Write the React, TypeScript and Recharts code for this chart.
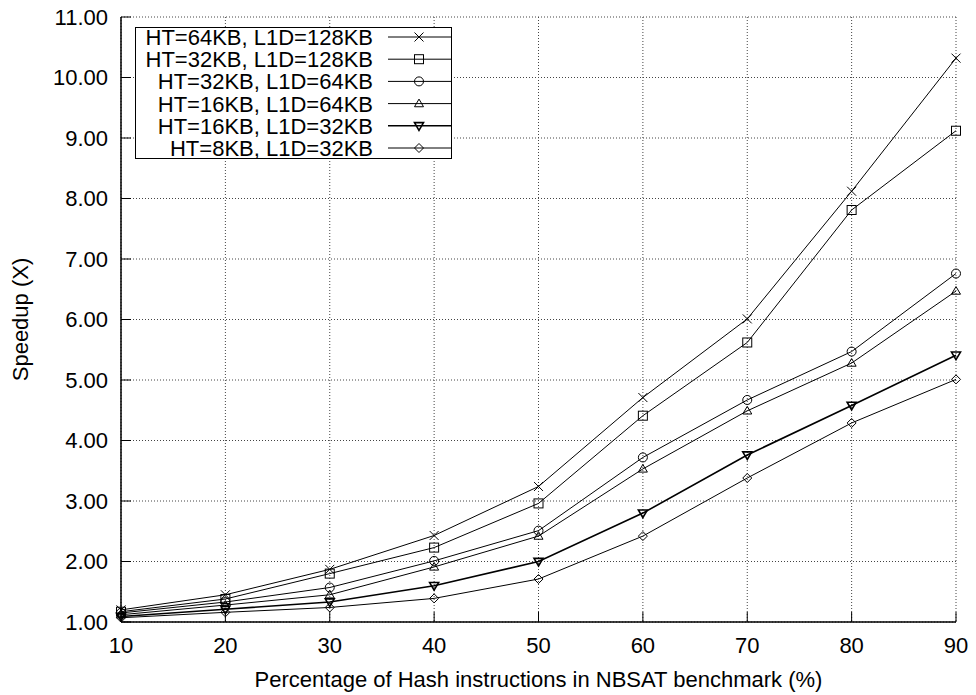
import React from 'react';
import { LineChart, Line, XAxis, YAxis, CartesianGrid, Legend } from 'recharts';

const percentages = [10, 20, 30, 40, 50, 60, 70, 80, 90];
const yTicks = [1, 2, 3, 4, 5, 6, 7, 8, 9, 10, 11];

const ht64l128 = [1.2, 1.45, 1.87, 2.43, 3.24, 4.71, 6.01, 8.12, 10.32];
const ht32l128 = [1.17, 1.38, 1.8, 2.23, 2.96, 4.41, 5.62, 7.81, 9.12];
const ht32l64 = [1.15, 1.33, 1.57, 2.01, 2.51, 3.72, 4.67, 5.47, 6.76];
const ht16l64 = [1.12, 1.28, 1.45, 1.91, 2.42, 3.53, 4.49, 5.28, 6.47];
const ht16l32 = [1.09, 1.21, 1.33, 1.6, 2.0, 2.8, 3.76, 4.58, 5.41];
const ht8l32 = [1.07, 1.16, 1.24, 1.39, 1.71, 2.42, 3.38, 4.29, 5.01];

const seriesNames = [
  'HT=64KB, L1D=128KB',
  'HT=32KB, L1D=128KB',
  'HT=32KB, L1D=64KB',
  'HT=16KB, L1D=64KB',
  'HT=16KB, L1D=32KB',
  'HT=8KB, L1D=32KB',
];
const seriesValues = [ht64l128, ht32l128, ht32l64, ht16l64, ht16l32, ht8l32];
const seriesShapes = ['cross', 'square', 'circle', 'triangle', 'triangleDown', 'diamond'];
const seriesWidths = [1, 1, 1, 1, 1.6, 1];

const data = percentages.map((p, i) => {
  const row: any = { x: p };
  seriesValues.forEach((vals, s) => {
    row['s' + s] = vals[i];
  });
  return row;
});

const FONT = '"Liberation Sans", Arial, Helvetica, sans-serif';
const FS = 22;

function Marker({ cx, cy, shape }: { cx: number; cy: number; shape: string }) {
  const r = 4.5;
  const common = { fill: 'none', stroke: '#000', strokeWidth: 1 };
  switch (shape) {
    case 'cross':
      return (
        <g>
          <line x1={cx - r} y1={cy - r} x2={cx + r} y2={cy + r} stroke="#000" strokeWidth={1} />
          <line x1={cx - r} y1={cy + r} x2={cx + r} y2={cy - r} stroke="#000" strokeWidth={1} />
        </g>
      );
    case 'square':
      return <rect x={cx - r} y={cy - r} width={2 * r} height={2 * r} {...common} />;
    case 'circle':
      return <circle cx={cx} cy={cy} r={r} {...common} />;
    case 'triangle':
      return (
        <polygon
          points={`${cx},${cy - r} ${cx + r},${cy + r * 0.7} ${cx - r},${cy + r * 0.7}`}
          {...common}
        />
      );
    case 'triangleDown':
      return (
        <polygon
          points={`${cx},${cy + r} ${cx + r},${cy - r * 0.7} ${cx - r},${cy - r * 0.7}`}
          {...common}
          strokeWidth={1.6}
        />
      );
    case 'diamond':
    default:
      return (
        <polygon
          points={`${cx},${cy - r} ${cx + r},${cy} ${cx},${cy + r} ${cx - r},${cy}`}
          {...common}
        />
      );
  }
}

function LegendBox() {
  const rowH = 22.2;
  return (
    <svg width={315} height={130} style={{ display: 'block', overflow: 'visible' }}>
      {seriesNames.map((name, i) => {
        const y = 9 + i * rowH;
        return (
          <g key={name}>
            <text
              x={237}
              y={y}
              dy="0.36em"
              textAnchor="end"
              fontFamily={FONT}
              fontSize={FS}
              fill="#000"
            >
              {name}
            </text>
            <line x1={252} y1={y} x2={315} y2={y} stroke="#000" strokeWidth={seriesWidths[i]} />
            <Marker cx={283} cy={y} shape={seriesShapes[i]} />
          </g>
        );
      })}
    </svg>
  );
}

const axisStroke = { stroke: '#000', strokeWidth: 1.5 };
const tickLineStyle = { stroke: '#000', strokeWidth: 1 };

export default function App() {
  return (
    <div style={{ position: 'absolute', left: 0, top: 0, background: '#fff' }}>
      <LineChart
        width={976}
        height={695}
        data={data}
        margin={{ top: 17, right: 20, left: 0, bottom: 0 }}
        style={{ fontFamily: FONT }}
      >
        <CartesianGrid stroke="#444" strokeDasharray="1 2" strokeWidth={1} />
        <XAxis
          dataKey="x"
          type="number"
          domain={[10, 90]}
          ticks={percentages}
          height={73}
          tickLine={tickLineStyle}
          tickSize={-10}
          tickMargin={25}
          axisLine={axisStroke}
          tick={{ fill: '#000', fontSize: FS, fontFamily: FONT }}
          interval={0}
          label={{
            content: (props: any) => {
              const vb = props.viewBox || {};
              return (
                <text
                  x={vb.x + vb.width / 2}
                  y={687}
                  textAnchor="middle"
                  fontFamily={FONT}
                  fontSize={FS}
                  fill="#000"
                >
                  Percentage of Hash instructions in NBSAT benchmark (%)
                </text>
              );
            },
          }}
        />
        <XAxis
          xAxisId="top"
          orientation="top"
          type="number"
          domain={[10, 90]}
          ticks={percentages}
          interval={0}
          height={0}
          tick={false}
          tickLine={tickLineStyle}
          tickSize={-10}
          axisLine={axisStroke}
        />
        <YAxis
          type="number"
          domain={[1, 11]}
          ticks={yTicks}
          width={121}
          tickLine={tickLineStyle}
          tickSize={-10}
          tickMargin={23}
          interval={0}
          allowDataOverflow
          axisLine={axisStroke}
          tick={{ fill: '#000', fontSize: FS, fontFamily: FONT }}
          tickFormatter={(v: number) => v.toFixed(2)}
          label={{
            content: (props: any) => {
              const vb = props.viewBox || {};
              const x = 28;
              const y = vb.y + vb.height / 2;
              return (
                <text
                  x={x}
                  y={y}
                  textAnchor="middle"
                  transform={`rotate(-90, ${x}, ${y})`}
                  fontFamily={FONT}
                  fontSize={FS}
                  fill="#000"
                >
                  Speedup (X)
                </text>
              );
            },
          }}
        />
        <YAxis
          yAxisId="right"
          orientation="right"
          type="number"
          domain={[1, 11]}
          ticks={yTicks}
          interval={0}
          width={0}
          tick={false}
          tickLine={tickLineStyle}
          tickSize={-10}
          axisLine={axisStroke}
        />
        {seriesNames.map((name, s) => (
          <Line
            key={name}
            type="linear"
            dataKey={'s' + s}
            name={name}
            stroke="#000"
            strokeWidth={seriesWidths[s]}
            isAnimationActive={false}
            dot={(p: any) => (
              <Marker key={`${s}-${p.index}`} cx={p.cx} cy={p.cy} shape={seriesShapes[s]} />
            )}
            activeDot={false}
          />
        ))}
        <Legend
          layout="vertical"
          verticalAlign="middle"
          align="center"
          wrapperStyle={{
            position: 'absolute',
            left: 135,
            top: 27,
            width: 317,
            height: 132,
            border: '1px solid #000',
            background: '#fff',
            boxSizing: 'border-box',
          }}
          content={() => <LegendBox />}
        />
      </LineChart>
    </div>
  );
}
